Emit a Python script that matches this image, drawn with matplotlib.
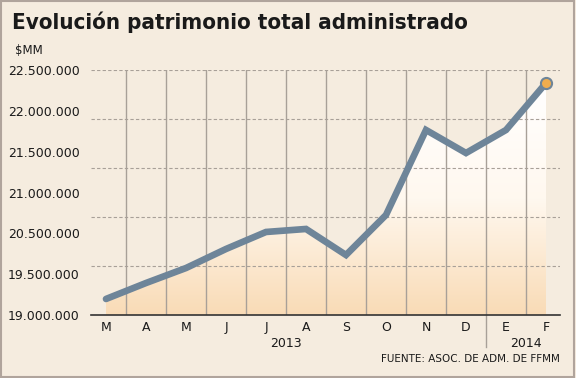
import matplotlib
matplotlib.use('Agg')
import matplotlib.pyplot as plt
import numpy as np
from matplotlib.patches import Polygon, Rectangle

BG = '#f5ecdf'
LINE = '#6e8599'
GRID = '#a8a098'
TEXT = '#1a1a1a'

months = ['M', 'A', 'M', 'J', 'J', 'A', 'S', 'O', 'N', 'D', 'E', 'F']
values = [19229000, 19457000, 19671000, 19943000, 20186000, 20229000,
          19857000, 20429000, 21643000, 21314000, 21643000, 22314000]
ytick_labels = ['19.000.000', '19.500.000', '20.500.000', '21.000.000',
                '21.500.000', '22.000.000', '22.500.000']
years = ['2013', '2014']

fig = plt.figure(figsize=(5.76, 3.78), dpi=100, facecolor=BG)
W, H = 576, 378
ax = fig.add_axes([91 / W, 1 - 315 / H, (560 - 91) / W, (315 - 70) / H])
ax.set_facecolor(BG)

x = np.arange(len(months))
ymin, ymax = 19000000, 22500000
ax.set_xlim(-0.375, 11.35)
ax.set_ylim(ymin, ymax)

# gradient fill under the line
grad = np.linspace(0, 1, 256).reshape(-1, 1)
cmap = matplotlib.colors.LinearSegmentedColormap.from_list('g', ['#f9dbb6', '#fff8ef', '#ffffff'])
im = ax.imshow(grad, aspect='auto', cmap=cmap, origin='lower',
               extent=[x[0], x[-1], ymin, values[-1]], zorder=1)
poly = Polygon(list(zip(x, values)) + [(x[-1], ymin), (x[0], ymin)],
               closed=True, transform=ax.transData, facecolor='none', edgecolor='none')
ax.add_patch(poly)
im.set_clip_path(poly)

# grid
for k in range(1, 6):
    ax.axhline(ymin + k * (ymax - ymin) / 5, color=GRID, lw=0.8, ls=(0, (3, 2)), zorder=2)
for k in range(len(months) - 1):
    ax.axvline(k + 0.5, color=GRID, lw=1.0, zorder=2)

ax.plot(x, values, color=LINE, lw=4.8, solid_capstyle='round', solid_joinstyle='miter', zorder=4)
ax.plot(x[-1], values[-1], 'o', ms=8, mfc='#f0ad4e', mec=LINE, mew=1.5, zorder=5)

for s in ['top', 'right', 'left']:
    ax.spines[s].set_visible(False)
ax.spines['bottom'].set_color('#333333')
ax.spines['bottom'].set_linewidth(1.2)

ax.set_yticks(np.linspace(ymin, ymax, len(ytick_labels)))
ax.set_yticklabels(ytick_labels, fontsize=9, color=TEXT)
ax.tick_params(axis='y', length=0, pad=8)
ax.set_xticks(x)
ax.set_xticklabels(months, fontsize=9, color=TEXT)
ax.tick_params(axis='x', length=0, pad=4)

# year labels and separator
ax.text(4.5, -0.115, years[0], transform=ax.get_xaxis_transform(), ha='center', va='center',
        fontsize=9, color=TEXT)
ax.text(10.5, -0.115, years[1], transform=ax.get_xaxis_transform(), ha='center', va='center',
        fontsize=9, color=TEXT)
ax.plot([9.5, 9.5], [0, -0.13], transform=ax.get_xaxis_transform(), color=GRID, lw=1.0,
        clip_on=False)

fig.text(12 / W, 1 - 22 / H, 'Evolución patrimonio total administrado',
         fontsize=16, fontweight='bold', fontstretch='condensed',
         family=['DejaVu Sans'], color=TEXT, va='center', ha='left')
fig.text(15 / W, 1 - 50 / H, '$MM', fontsize=8.5, color=TEXT, va='center', ha='left')
fig.text(560 / W, 1 - 359 / H, 'FUENTE: ASOC. DE ADM. DE FFMM', fontsize=7.5,
         color=TEXT, va='center', ha='right')

# frame
fig.patches.append(Rectangle((0.002, 0.003), 0.995, 0.994, transform=fig.transFigure,
                             fill=False, edgecolor='#b0a49c', lw=1.5))

fig.savefig('out.png', dpi=100, facecolor=BG)
